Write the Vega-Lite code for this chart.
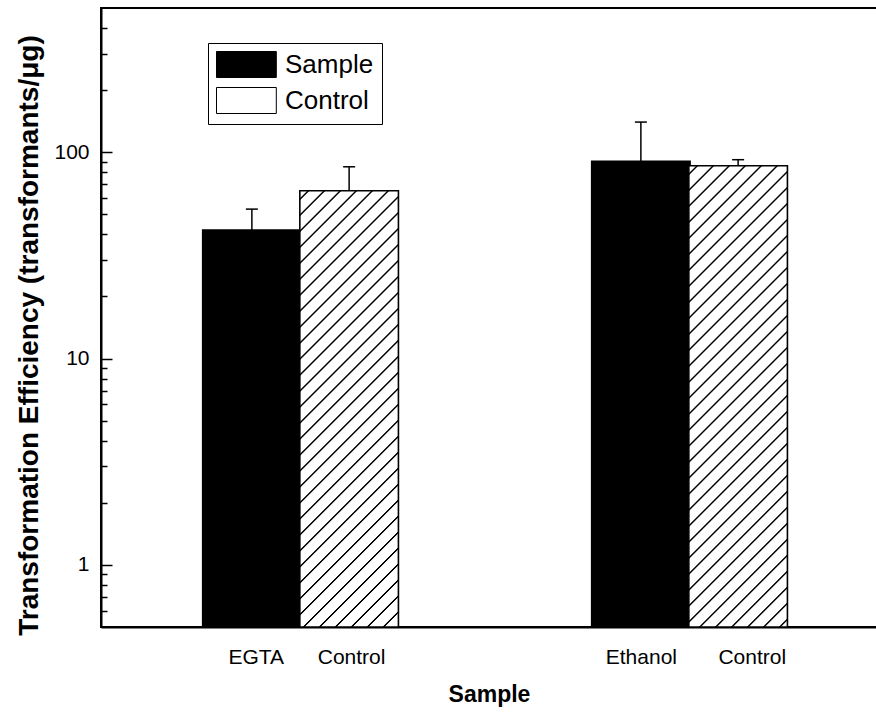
{
  "$schema": "https://vega.github.io/schema/vega-lite/v6.json",
  "width": 788,
  "height": 619,
  "autosize": "none",
  "padding": {"left": 101, "top": 8, "right": 0, "bottom": 86},
  "background": "white",
  "config": {
    "font": "Liberation Sans",
    "view": {"stroke": "black", "strokeWidth": 2},
    "axis": {"domainColor": "black", "domainWidth": 2, "tickColor": "black", "tickWidth": 1.5, "labelColor": "black", "titleColor": "black", "labelFont": "Liberation Sans", "titleFont": "Liberation Sans", "grid": false}
  },
  "resolve": {"scale": {"y": "shared"}, "axis": {"y": "independent"}},
  "data": {
    "values": [
      {"group": "EGTA", "type": "Sample", "pos": 1.5, "value": 42, "upper": 53},
      {"group": "EGTA", "type": "Control", "pos": 2.5, "value": 65, "upper": 85},
      {"group": "Ethanol", "type": "Sample", "pos": 5.5, "value": 90.5, "upper": 140},
      {"group": "Ethanol", "type": "Control", "pos": 6.5, "value": 86, "upper": 92}
    ]
  },
  "layer": [
    {
      "mark": {"type": "bar", "width": 98.5, "stroke": "black", "strokeWidth": 1.5},
      "encoding": {
        "x": {"field": "pos", "type": "quantitative", "scale": {"domain": [0, 8], "nice": false, "zero": false},
          "axis": {"title": "Sample", "values": [1.54, 2.52, 5.5, 6.64], "ticks": false, "labelFontSize": 21, "labelPadding": 36, "labelBaseline": "alphabetic", "labelFlush": false, "labelOverlap": false,
            "labelExpr": "datum.value === 1.54 ? 'EGTA' : datum.value === 2.52 ? 'Control' : datum.value === 5.5 ? 'Ethanol' : 'Control'",
            "titleFontSize": 23, "titleFontWeight": "bold", "titleX": 388, "titleY": 74, "titleBaseline": "alphabetic"}},
        "y": {"field": "value", "type": "quantitative", "scale": {"type": "log", "domain": [0.5, 500], "nice": false},
          "axis": {"orient": "left", "title": "Transformation Efficiency (transformants/μg)", "values": [1, 10, 100], "ticks": false,
            "labelExpr": "format(datum.value, 'd')",
            "labelFontSize": 21, "labelPadding": 12, "labelOverlap": false, "labelFlush": false,
            "titleFontSize": 28, "titleFontWeight": "bold", "titleX": -64, "titleY": 327, "titleBaseline": "alphabetic", "titleAngle": 270}},
        "y2": {"datum": 0.5},
        "fill": {"field": "type", "type": "nominal", "scale": {"domain": ["Sample", "Control"], "range": ["black", "white"]},
          "legend": {"title": null, "orient": "none", "legendX": 107, "legendY": 35, "direction": "vertical", "strokeColor": "black", "padding": 8,
            "symbolType": "M-1,-1H3.6V1H-1Z", "symbolSize": 676, "symbolStrokeColor": "black", "symbolStrokeWidth": 1, "labelFontSize": 26, "labelFont": "Liberation Sans", "labelColor": "black", "labelOffset": 42, "rowPadding": 5}}
      }
    },
    {
      "transform": [{"filter": "datum.group === 'EGTA' && datum.type === 'Control'"}],
      "mark": {"type": "bar", "width": 98.5, "stroke": "black", "strokeWidth": 1.5,
        "fill": {"gradient": "linear", "x1": 0, "y1": 0, "x2": 0.3482, "y2": 1.5421, "stops": [
          {"offset": 0, "color": "white"},
          {"offset": 0.0098, "color": "white"}, {"offset": 0.0113, "color": "black"}, {"offset": 0.0127, "color": "black"}, {"offset": 0.0142, "color": "white"},
          {"offset": 0.0324, "color": "white"}, {"offset": 0.0339, "color": "black"}, {"offset": 0.0353, "color": "black"}, {"offset": 0.0368, "color": "white"},
          {"offset": 0.0550, "color": "white"}, {"offset": 0.0565, "color": "black"}, {"offset": 0.0579, "color": "black"}, {"offset": 0.0594, "color": "white"},
          {"offset": 0.0776, "color": "white"}, {"offset": 0.0791, "color": "black"}, {"offset": 0.0805, "color": "black"}, {"offset": 0.0820, "color": "white"},
          {"offset": 0.1002, "color": "white"}, {"offset": 0.1017, "color": "black"}, {"offset": 0.1031, "color": "black"}, {"offset": 0.1046, "color": "white"},
          {"offset": 0.1228, "color": "white"}, {"offset": 0.1243, "color": "black"}, {"offset": 0.1257, "color": "black"}, {"offset": 0.1272, "color": "white"},
          {"offset": 0.1454, "color": "white"}, {"offset": 0.1469, "color": "black"}, {"offset": 0.1483, "color": "black"}, {"offset": 0.1498, "color": "white"},
          {"offset": 0.1680, "color": "white"}, {"offset": 0.1695, "color": "black"}, {"offset": 0.1709, "color": "black"}, {"offset": 0.1724, "color": "white"},
          {"offset": 0.1906, "color": "white"}, {"offset": 0.1921, "color": "black"}, {"offset": 0.1935, "color": "black"}, {"offset": 0.1950, "color": "white"},
          {"offset": 0.2132, "color": "white"}, {"offset": 0.2147, "color": "black"}, {"offset": 0.2161, "color": "black"}, {"offset": 0.2176, "color": "white"},
          {"offset": 0.2358, "color": "white"}, {"offset": 0.2373, "color": "black"}, {"offset": 0.2387, "color": "black"}, {"offset": 0.2402, "color": "white"},
          {"offset": 0.2584, "color": "white"}, {"offset": 0.2599, "color": "black"}, {"offset": 0.2613, "color": "black"}, {"offset": 0.2628, "color": "white"},
          {"offset": 0.2810, "color": "white"}, {"offset": 0.2825, "color": "black"}, {"offset": 0.2839, "color": "black"}, {"offset": 0.2854, "color": "white"},
          {"offset": 0.3036, "color": "white"}, {"offset": 0.3051, "color": "black"}, {"offset": 0.3065, "color": "black"}, {"offset": 0.3080, "color": "white"},
          {"offset": 0.3262, "color": "white"}, {"offset": 0.3277, "color": "black"}, {"offset": 0.3291, "color": "black"}, {"offset": 0.3306, "color": "white"},
          {"offset": 0.3488, "color": "white"}, {"offset": 0.3503, "color": "black"}, {"offset": 0.3517, "color": "black"}, {"offset": 0.3532, "color": "white"},
          {"offset": 0.3714, "color": "white"}, {"offset": 0.3729, "color": "black"}, {"offset": 0.3743, "color": "black"}, {"offset": 0.3758, "color": "white"},
          {"offset": 0.3940, "color": "white"}, {"offset": 0.3955, "color": "black"}, {"offset": 0.3969, "color": "black"}, {"offset": 0.3984, "color": "white"},
          {"offset": 0.4166, "color": "white"}, {"offset": 0.4181, "color": "black"}, {"offset": 0.4195, "color": "black"}, {"offset": 0.4210, "color": "white"},
          {"offset": 0.4392, "color": "white"}, {"offset": 0.4407, "color": "black"}, {"offset": 0.4421, "color": "black"}, {"offset": 0.4436, "color": "white"},
          {"offset": 0.4618, "color": "white"}, {"offset": 0.4633, "color": "black"}, {"offset": 0.4647, "color": "black"}, {"offset": 0.4662, "color": "white"},
          {"offset": 0.4844, "color": "white"}, {"offset": 0.4859, "color": "black"}, {"offset": 0.4873, "color": "black"}, {"offset": 0.4888, "color": "white"},
          {"offset": 0.5070, "color": "white"}, {"offset": 0.5085, "color": "black"}, {"offset": 0.5099, "color": "black"}, {"offset": 0.5114, "color": "white"},
          {"offset": 0.5296, "color": "white"}, {"offset": 0.5311, "color": "black"}, {"offset": 0.5325, "color": "black"}, {"offset": 0.5340, "color": "white"},
          {"offset": 0.5522, "color": "white"}, {"offset": 0.5537, "color": "black"}, {"offset": 0.5551, "color": "black"}, {"offset": 0.5566, "color": "white"},
          {"offset": 0.5748, "color": "white"}, {"offset": 0.5763, "color": "black"}, {"offset": 0.5777, "color": "black"}, {"offset": 0.5792, "color": "white"},
          {"offset": 0.5974, "color": "white"}, {"offset": 0.5989, "color": "black"}, {"offset": 0.6003, "color": "black"}, {"offset": 0.6018, "color": "white"},
          {"offset": 0.6200, "color": "white"}, {"offset": 0.6215, "color": "black"}, {"offset": 0.6229, "color": "black"}, {"offset": 0.6244, "color": "white"},
          {"offset": 0.6426, "color": "white"}, {"offset": 0.6441, "color": "black"}, {"offset": 0.6455, "color": "black"}, {"offset": 0.6470, "color": "white"},
          {"offset": 0.6652, "color": "white"}, {"offset": 0.6667, "color": "black"}, {"offset": 0.6681, "color": "black"}, {"offset": 0.6696, "color": "white"},
          {"offset": 0.6878, "color": "white"}, {"offset": 0.6893, "color": "black"}, {"offset": 0.6907, "color": "black"}, {"offset": 0.6922, "color": "white"},
          {"offset": 0.7104, "color": "white"}, {"offset": 0.7119, "color": "black"}, {"offset": 0.7133, "color": "black"}, {"offset": 0.7148, "color": "white"},
          {"offset": 0.7330, "color": "white"}, {"offset": 0.7345, "color": "black"}, {"offset": 0.7359, "color": "black"}, {"offset": 0.7374, "color": "white"},
          {"offset": 0.7556, "color": "white"}, {"offset": 0.7571, "color": "black"}, {"offset": 0.7585, "color": "black"}, {"offset": 0.7600, "color": "white"},
          {"offset": 0.7782, "color": "white"}, {"offset": 0.7797, "color": "black"}, {"offset": 0.7811, "color": "black"}, {"offset": 0.7826, "color": "white"},
          {"offset": 0.8008, "color": "white"}, {"offset": 0.8023, "color": "black"}, {"offset": 0.8037, "color": "black"}, {"offset": 0.8052, "color": "white"},
          {"offset": 1, "color": "white"}]}},
      "encoding": {
        "x": {"field": "pos", "type": "quantitative"},
        "y": {"field": "value", "type": "quantitative", "axis": null},
        "y2": {"datum": 0.5}
      }
    },
    {
      "transform": [{"filter": "datum.group === 'Ethanol' && datum.type === 'Control'"}],
      "mark": {"type": "bar", "width": 98.5, "stroke": "black", "strokeWidth": 1.5,
        "fill": {"gradient": "linear", "x1": 0, "y1": 0, "x2": 0.3134, "y2": 1.4669, "stops": [
          {"offset": 0, "color": "white"},
          {"offset": 0.0098, "color": "white"}, {"offset": 0.0113, "color": "black"}, {"offset": 0.0127, "color": "black"}, {"offset": 0.0142, "color": "white"},
          {"offset": 0.0324, "color": "white"}, {"offset": 0.0339, "color": "black"}, {"offset": 0.0353, "color": "black"}, {"offset": 0.0368, "color": "white"},
          {"offset": 0.0550, "color": "white"}, {"offset": 0.0565, "color": "black"}, {"offset": 0.0579, "color": "black"}, {"offset": 0.0594, "color": "white"},
          {"offset": 0.0776, "color": "white"}, {"offset": 0.0791, "color": "black"}, {"offset": 0.0805, "color": "black"}, {"offset": 0.0820, "color": "white"},
          {"offset": 0.1002, "color": "white"}, {"offset": 0.1017, "color": "black"}, {"offset": 0.1031, "color": "black"}, {"offset": 0.1046, "color": "white"},
          {"offset": 0.1228, "color": "white"}, {"offset": 0.1243, "color": "black"}, {"offset": 0.1257, "color": "black"}, {"offset": 0.1272, "color": "white"},
          {"offset": 0.1454, "color": "white"}, {"offset": 0.1469, "color": "black"}, {"offset": 0.1483, "color": "black"}, {"offset": 0.1498, "color": "white"},
          {"offset": 0.1680, "color": "white"}, {"offset": 0.1695, "color": "black"}, {"offset": 0.1709, "color": "black"}, {"offset": 0.1724, "color": "white"},
          {"offset": 0.1906, "color": "white"}, {"offset": 0.1921, "color": "black"}, {"offset": 0.1935, "color": "black"}, {"offset": 0.1950, "color": "white"},
          {"offset": 0.2132, "color": "white"}, {"offset": 0.2147, "color": "black"}, {"offset": 0.2161, "color": "black"}, {"offset": 0.2176, "color": "white"},
          {"offset": 0.2358, "color": "white"}, {"offset": 0.2373, "color": "black"}, {"offset": 0.2387, "color": "black"}, {"offset": 0.2402, "color": "white"},
          {"offset": 0.2584, "color": "white"}, {"offset": 0.2599, "color": "black"}, {"offset": 0.2613, "color": "black"}, {"offset": 0.2628, "color": "white"},
          {"offset": 0.2810, "color": "white"}, {"offset": 0.2825, "color": "black"}, {"offset": 0.2839, "color": "black"}, {"offset": 0.2854, "color": "white"},
          {"offset": 0.3036, "color": "white"}, {"offset": 0.3051, "color": "black"}, {"offset": 0.3065, "color": "black"}, {"offset": 0.3080, "color": "white"},
          {"offset": 0.3262, "color": "white"}, {"offset": 0.3277, "color": "black"}, {"offset": 0.3291, "color": "black"}, {"offset": 0.3306, "color": "white"},
          {"offset": 0.3488, "color": "white"}, {"offset": 0.3503, "color": "black"}, {"offset": 0.3517, "color": "black"}, {"offset": 0.3532, "color": "white"},
          {"offset": 0.3714, "color": "white"}, {"offset": 0.3729, "color": "black"}, {"offset": 0.3743, "color": "black"}, {"offset": 0.3758, "color": "white"},
          {"offset": 0.3940, "color": "white"}, {"offset": 0.3955, "color": "black"}, {"offset": 0.3969, "color": "black"}, {"offset": 0.3984, "color": "white"},
          {"offset": 0.4166, "color": "white"}, {"offset": 0.4181, "color": "black"}, {"offset": 0.4195, "color": "black"}, {"offset": 0.4210, "color": "white"},
          {"offset": 0.4392, "color": "white"}, {"offset": 0.4407, "color": "black"}, {"offset": 0.4421, "color": "black"}, {"offset": 0.4436, "color": "white"},
          {"offset": 0.4618, "color": "white"}, {"offset": 0.4633, "color": "black"}, {"offset": 0.4647, "color": "black"}, {"offset": 0.4662, "color": "white"},
          {"offset": 0.4844, "color": "white"}, {"offset": 0.4859, "color": "black"}, {"offset": 0.4873, "color": "black"}, {"offset": 0.4888, "color": "white"},
          {"offset": 0.5070, "color": "white"}, {"offset": 0.5085, "color": "black"}, {"offset": 0.5099, "color": "black"}, {"offset": 0.5114, "color": "white"},
          {"offset": 0.5296, "color": "white"}, {"offset": 0.5311, "color": "black"}, {"offset": 0.5325, "color": "black"}, {"offset": 0.5340, "color": "white"},
          {"offset": 0.5522, "color": "white"}, {"offset": 0.5537, "color": "black"}, {"offset": 0.5551, "color": "black"}, {"offset": 0.5566, "color": "white"},
          {"offset": 0.5748, "color": "white"}, {"offset": 0.5763, "color": "black"}, {"offset": 0.5777, "color": "black"}, {"offset": 0.5792, "color": "white"},
          {"offset": 0.5974, "color": "white"}, {"offset": 0.5989, "color": "black"}, {"offset": 0.6003, "color": "black"}, {"offset": 0.6018, "color": "white"},
          {"offset": 0.6200, "color": "white"}, {"offset": 0.6215, "color": "black"}, {"offset": 0.6229, "color": "black"}, {"offset": 0.6244, "color": "white"},
          {"offset": 0.6426, "color": "white"}, {"offset": 0.6441, "color": "black"}, {"offset": 0.6455, "color": "black"}, {"offset": 0.6470, "color": "white"},
          {"offset": 0.6652, "color": "white"}, {"offset": 0.6667, "color": "black"}, {"offset": 0.6681, "color": "black"}, {"offset": 0.6696, "color": "white"},
          {"offset": 0.6878, "color": "white"}, {"offset": 0.6893, "color": "black"}, {"offset": 0.6907, "color": "black"}, {"offset": 0.6922, "color": "white"},
          {"offset": 0.7104, "color": "white"}, {"offset": 0.7119, "color": "black"}, {"offset": 0.7133, "color": "black"}, {"offset": 0.7148, "color": "white"},
          {"offset": 0.7330, "color": "white"}, {"offset": 0.7345, "color": "black"}, {"offset": 0.7359, "color": "black"}, {"offset": 0.7374, "color": "white"},
          {"offset": 0.7556, "color": "white"}, {"offset": 0.7571, "color": "black"}, {"offset": 0.7585, "color": "black"}, {"offset": 0.7600, "color": "white"},
          {"offset": 0.7782, "color": "white"}, {"offset": 0.7797, "color": "black"}, {"offset": 0.7811, "color": "black"}, {"offset": 0.7826, "color": "white"},
          {"offset": 0.8008, "color": "white"}, {"offset": 0.8023, "color": "black"}, {"offset": 0.8037, "color": "black"}, {"offset": 0.8052, "color": "white"},
          {"offset": 1, "color": "white"}]}},
      "encoding": {
        "x": {"field": "pos", "type": "quantitative"},
        "y": {"field": "value", "type": "quantitative", "axis": null},
        "y2": {"datum": 0.5}
      }
    },
    {
      "mark": {"type": "rule", "color": "black", "strokeWidth": 1.5},
      "encoding": {
        "x": {"field": "pos", "type": "quantitative"},
        "y": {"field": "value", "type": "quantitative",
          "axis": {"orient": "right", "offset": -788, "values": [1, 10, 100], "tickSize": 11, "labels": false, "domain": false, "title": null, "grid": false}},
        "y2": {"field": "upper"}
      }
    },
    {
      "mark": {"type": "tick", "orient": "horizontal", "size": 12, "thickness": 1.5, "color": "black", "opacity": 1},
      "encoding": {
        "x": {"field": "pos", "type": "quantitative"},
        "y": {"field": "upper", "type": "quantitative",
          "axis": {"orient": "right", "offset": -788, "values": [0.6, 0.7, 0.8, 0.9, 2, 3, 4, 5, 6, 7, 8, 9, 20, 30, 40, 50, 60, 70, 80, 90, 200, 300, 400], "tickSize": 6, "labels": false, "domain": false, "title": null, "grid": false}}
      }
    }
  ]
}
